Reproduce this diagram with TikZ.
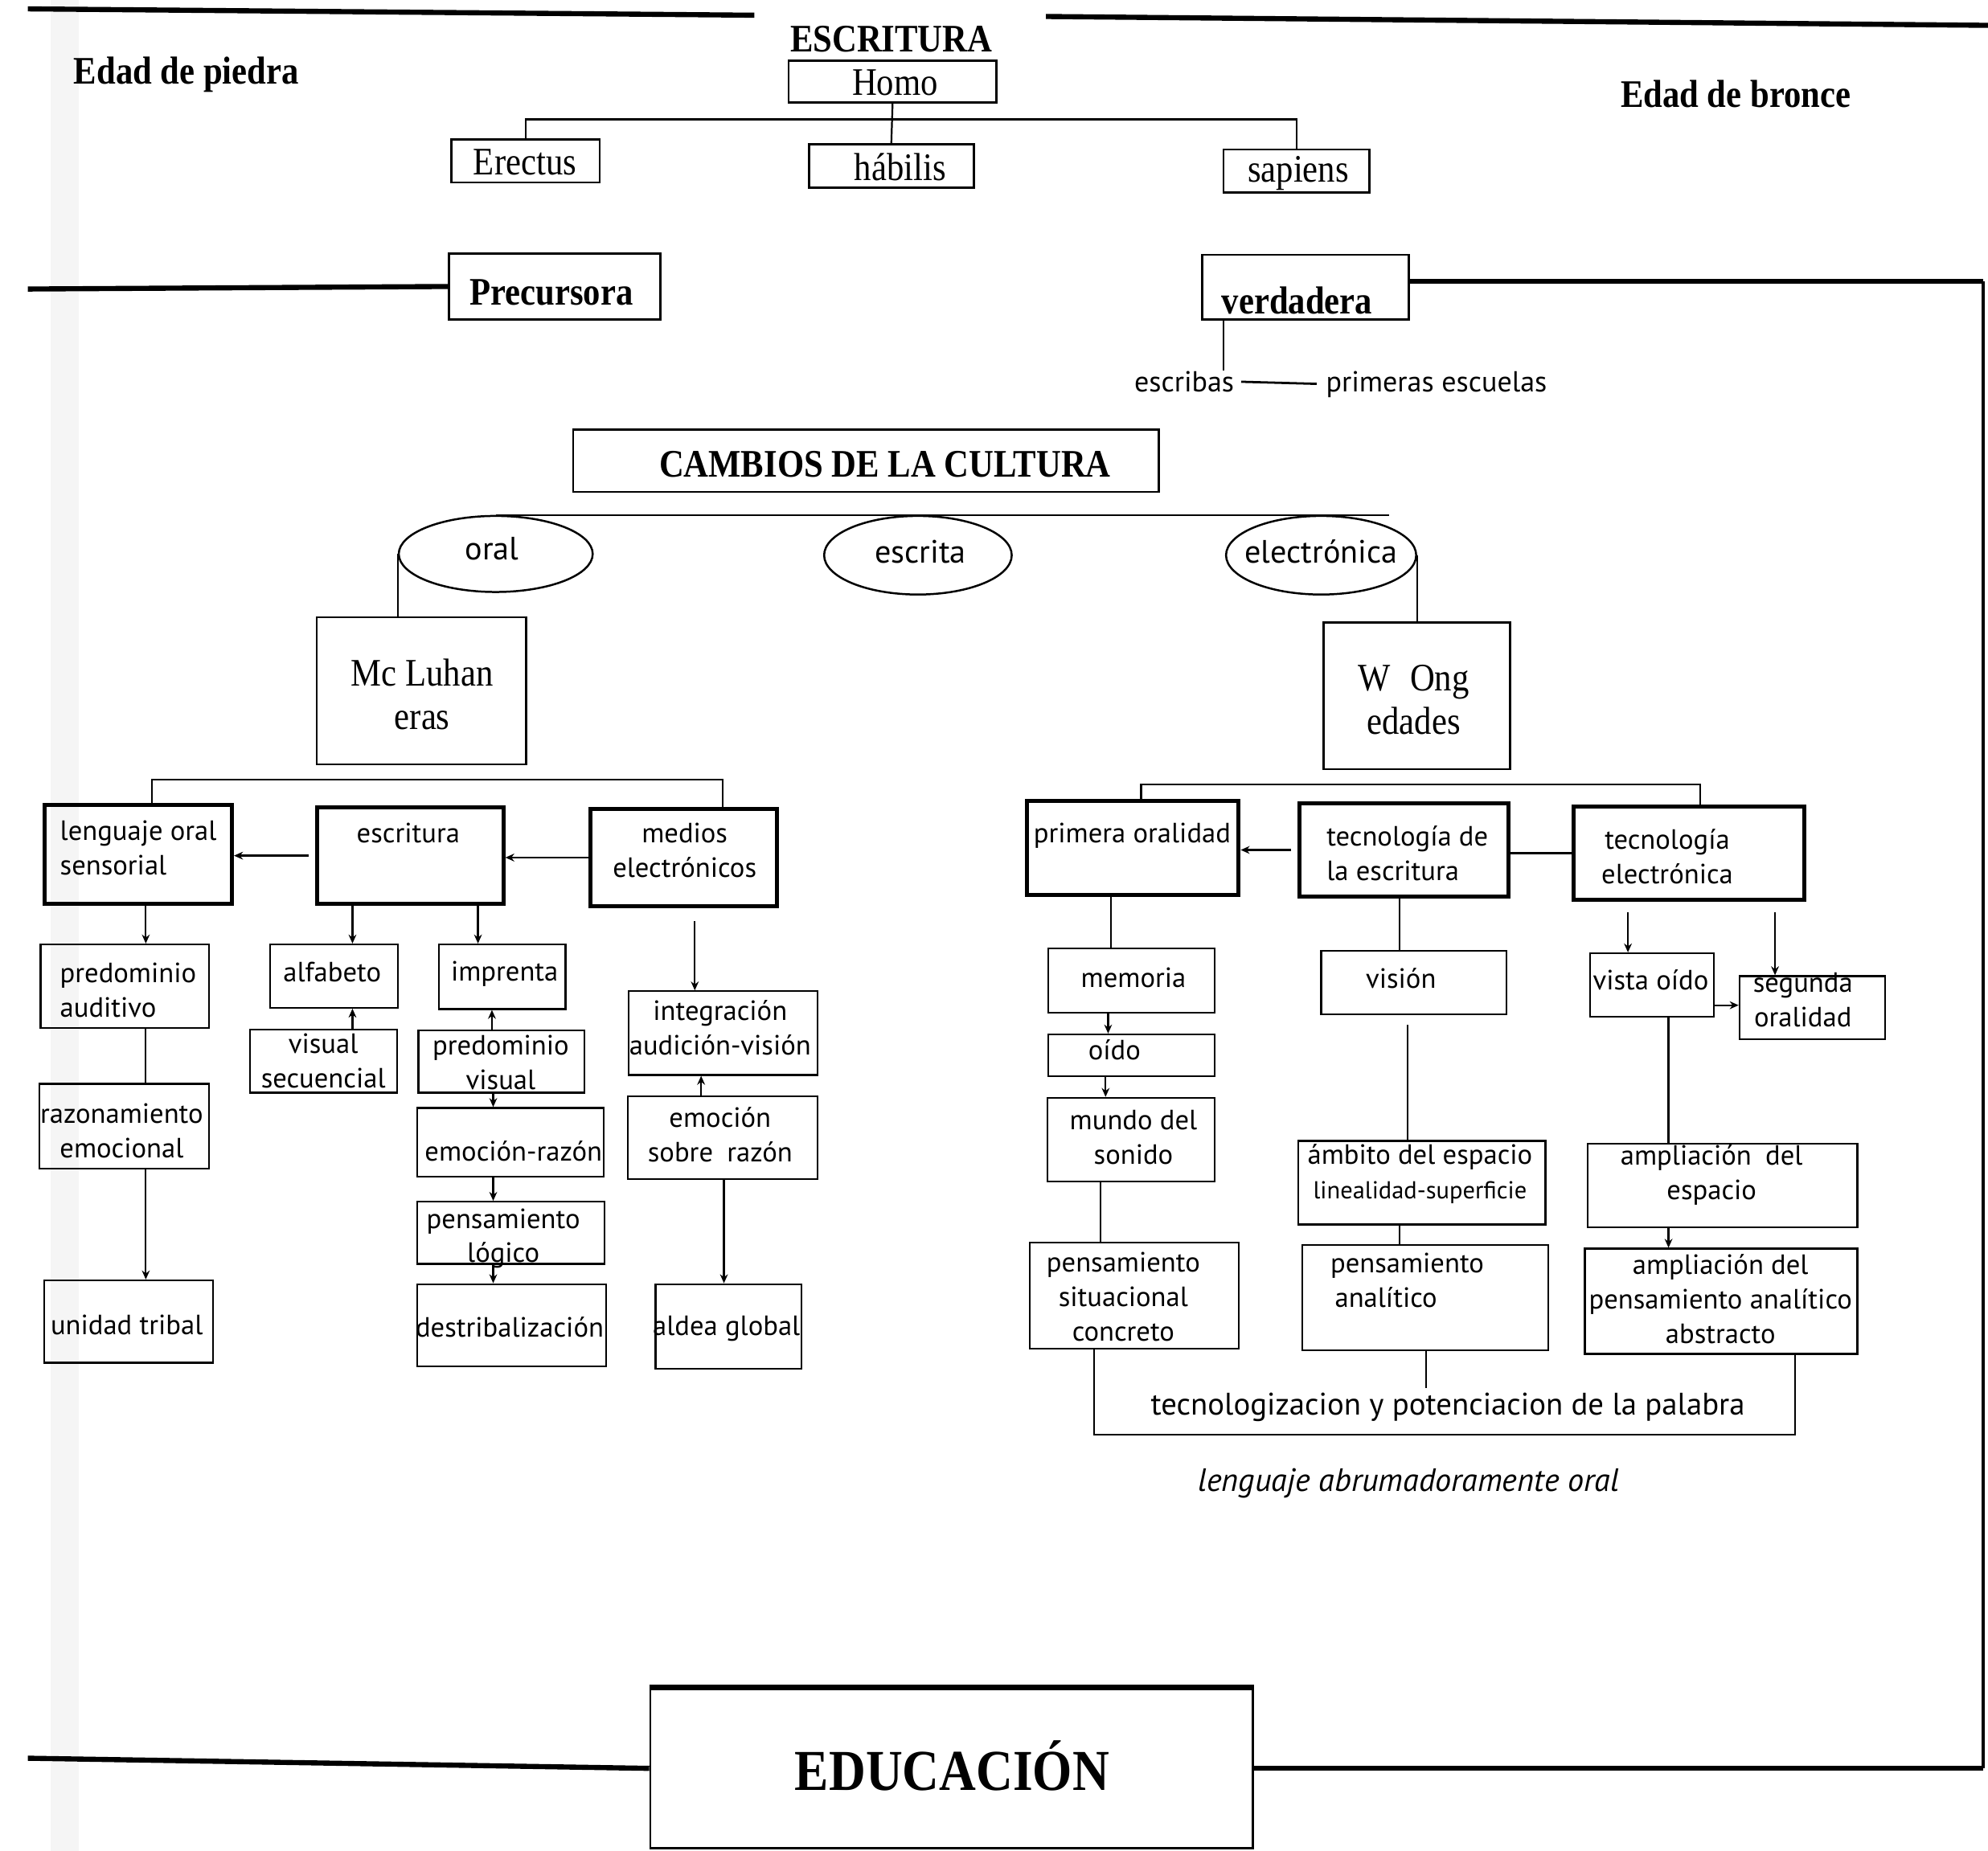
\documentclass[tikz,border=0pt]{standalone}
\usepackage{fontspec}
\setmainfont{Liberation Serif}[FakeStretch=0.88]
\newfontfamily\optfont{PT Sans}
\usetikzlibrary{shapes.geometric,arrows.meta}
\tikzset{
  box/.style={draw,line width=0.8pt,inner sep=0pt},
  tbox/.style={draw,line width=1pt,inner sep=0pt},
  bbox/.style={draw,line width=1.8pt,inner sep=0pt},
  txt/.style={inner sep=0pt,align=center,font=\optfont\fontsize{12.5}{15.5}\selectfont},
  ltxt/.style={txt,align=left},
  otxt/.style={inner sep=0pt,font=\optfont\fontsize{14.5}{16}\selectfont},
  stxt/.style={inner sep=0pt,align=center,font=\fontsize{17.5}{19.5}\selectfont},
  btxt/.style={inner sep=0pt,font=\bfseries\fontsize{17.5}{20}\selectfont},
  oval/.style={draw,ellipse,line width=0.9pt,inner sep=0pt},
  con/.style={line width=0.8pt},
  arr/.style={con,-{Stealth[length=4pt,width=3.5pt]}},
  heavy/.style={line width=2.3pt},
}
\newcommand\mybox[6][box]{%
  \node[#1,minimum width={(#5-#3)*0.02cm},minimum height={(#6-#4)*0.02cm}] (#2) at ({(#3+#5)/2},{(#4+#6)/2}) {};}
\begin{document}
\begin{tikzpicture}[x=0.02cm,y=-0.02cm]
\useasboundingbox (0,0) rectangle (1568,1460);
\fill[black!4] (40,0) rectangle (62,1460);
% top lines
\coordinate (tl1) at (22,7); \coordinate (tl2) at (595,12);
\coordinate (tr1) at (825,13); \coordinate (tr2) at (1568,20);
\draw[heavy] (tl1) -- (tl2);
\draw[heavy] (tr1) -- (tr2);
\node[btxt] (escT) at (703,31) {ESCRITURA};
\node[btxt] (piedra) at (147,59) {Edad de piedra};
\node[btxt] (bronce) at (1369,74) {Edad de bronce};
% homo
\mybox[tbox]{homo}{622}{48}{786}{81}
\node[stxt] (homo-t) at (706,65) {Homo};
\mybox[tbox]{ere}{356}{110}{473}{144}
\node[stxt] (ere-t) at (414,128) {Erectus};
\mybox[tbox]{hab}{638}{114}{768}{148}
\node[stxt] (hab-t) at (710,132) {hábilis};
\mybox[tbox]{sap}{965}{118}{1080}{152}
\node[stxt] (sap-t) at (1024,137) {sapiens};
\draw[con] (homo.south) -- (hab.north);
\draw[con] (ere.north) -- ++(0,-15) -| (sap.north);
% precursora / verdadera
\mybox[tbox]{prec}{354}{200}{521}{252}
\node[btxt] (prec-t) at (435,231) {Precursora};
\mybox[tbox]{verd}{948}{201}{1111}{252}
\node[btxt] (verd-t) at (1023,237) {verdadera};
\coordinate (pl) at (22,228);
\draw[heavy] (pl) -- (prec.west);
\node[txt,font=\optfont\fontsize{13}{15}\selectfont] (escri) at (934,301) {escribas};
\node[txt,font=\optfont\fontsize{13}{15}\selectfont] (primesc) at (1133,303) {primeras escuelas};
\draw[con] (965,0 |- verd.south) -- (965,0 |- escri.north);
\draw[line width=1pt,shorten <=3pt,shorten >=4pt] (escri.east) -- (primesc.west);
% cambios
\mybox[tbox]{camb}{452}{339}{914}{388}
\node[btxt] (camb-t) at (698,366) {CAMBIOS DE LA CULTURA};
\node[oval,minimum width=3.06cm,minimum height=1.2cm] (oral) at (391,437) {};
\node[otxt] (oral-t) at (388,433) {oral};
\node[oval,minimum width=2.96cm,minimum height=1.24cm] (escrita) at (724,438) {};
\node[otxt] (escrita-t) at (726,435) {escrita};
\node[oval,minimum width=3.0cm,minimum height=1.24cm] (elec) at (1042,438) {};
\node[otxt] (elec-t) at (1042,435) {electrónica};
\draw[con] (oral.north) -- (oral.north -| elec.north east);
\mybox{mcl}{250}{487}{415}{603}
\node[stxt] (mcl-t) at (333,548) {Mc Luhan\\eras};
\mybox{wong}{1044}{491}{1191}{607}
\node[stxt] (wong-t) at (1115,552) {W\enspace Ong\\edades};
\draw[con] (oral.west) -- (oral.west |- mcl.north);
\draw[con] (elec.east) -- (elec.east |- wong.north);
% left subtree
\mybox[bbox]{len}{35}{635}{183}{713}
\node[ltxt,anchor=west] (len-t) at (47,669) {lenguaje oral\\sensorial};
\mybox[bbox]{esc}{250}{637}{397}{713}
\node[txt] (esc-t) at (322,657) {escritura};
\mybox[bbox]{med}{466}{638}{613}{715}
\node[txt] (med-t) at (540,671) {medios\\electrónicos};
\draw[con] (120,0 |- len.north) -- (120,615) -- (570,615) -- (570,0 |- med.north);
\draw[arr,shorten <=0.1cm] (esc.west) -- (esc.west -| len.east);
\draw[arr] (med.west) -- (med.west -| esc.east);
\mybox{predA}{32}{745}{165}{811}
\node[ltxt,anchor=west] (predA-t) at (47,781) {predominio\\auditivo};
\mybox{razon}{31}{855}{165}{922}
\node[txt] (razon-t) at (96,892) {razonamiento\\emocional};
\mybox{unidad}{35}{1010}{168}{1075}
\node[txt] (unidad-t) at (100,1045) {unidad tribal};
\draw[arr] (115,0 |- len.south) -- (115,0 |- predA.north);
\draw[con] (115,0 |- predA.south) -- (115,0 |- razon.north);
\draw[arr] (115,0 |- razon.south) -- (115,0 |- unidad.north);
\mybox{alfa}{213}{745}{314}{795}
\node[txt] (alfa-t) at (262,767) {alfabeto};
\mybox{visSec}{197}{812}{313}{862}
\node[txt] (visSec-t) at (255,837) {visual\\secuencial};
\mybox{impr}{346}{745}{446}{796}
\node[txt] (impr-t) at (398,768) {imprenta};
\mybox{predV}{330}{813}{461}{862}
\node[txt] (predV-t) at (395,838) {predominio\\visual};
\mybox{emoRaz}{329}{874}{476}{928}
\node[txt] (emoRaz-t) at (405,908) {emoción-razón};
\mybox{pensL}{329}{948}{477}{997}
\node[txt] (pensL-t) at (397,977) {pensamiento\\lógico};
\mybox{destr}{329}{1013}{478}{1078}
\node[txt] (destr-t) at (402,1047) {destribalización};
\draw[arr] (278,0 |- esc.south) -- (278,0 |- alfa.north);
\draw[arr] (377,0 |- esc.south) -- (377,0 |- impr.north);
\draw[arr] (278,0 |- visSec.north) -- (278,0 |- alfa.south);
\draw[arr] (388,0 |- predV.north) -- (388,0 |- impr.south);
\draw[arr] (389,0 |- predV.south) -- (389,0 |- emoRaz.north);
\draw[arr] (389,0 |- emoRaz.south) -- (389,0 |- pensL.north);
\draw[arr] (389,0 |- pensL.south) -- (389,0 |- destr.north);
\mybox{integ}{496}{782}{645}{848}
\node[txt] (integ-t) at (568,811) {integración\\audición-visión};
\mybox{emoSob}{495}{865}{645}{930}
\node[txt] (emoSob-t) at (568,895) {emoción\\sobre\enspace razón};
\mybox{aldea}{517}{1013}{632}{1080}
\node[txt] (aldea-t) at (573,1048) {aldea global};
\draw[arr,shorten <=0.2cm] (548,0 |- med.south) -- (548,0 |- integ.north);
\draw[arr] (553,0 |- emoSob.north) -- (553,0 |- integ.south);
\draw[arr] (571,0 |- emoSob.south) -- (571,0 |- aldea.north);
% right subtree
\mybox[bbox]{prim}{810}{632}{977}{706}
\node[txt] (prim-t) at (893,659) {primera oralidad};
\mybox[bbox]{tecEsc}{1025}{634}{1190}{707}
\node[ltxt,anchor=west] (tecEsc-t) at (1046,673) {tecnología de\\la escritura};
\mybox[bbox]{tecEl}{1241}{636}{1423}{710}
\node[txt] (tecEl-t) at (1315,676) {tecnología\\electrónica};
\draw[con] (900,0 |- prim.north) -- (900,619) -- (1341,619) -- (1341,0 |- tecEl.north);
\draw[arr,shorten <=0.1cm] (tecEsc.west) -- (tecEsc.west -| prim.east);
\draw[con] (tecEl.west) -- (tecEl.west -| tecEsc.east);
\mybox{mem}{827}{748}{958}{799}
\node[txt] (mem-t) at (894,771) {memoria};
\mybox{oido}{827}{816}{958}{849}
\node[txt] (oido-t) at (879,828) {oído};
\mybox{mundo}{826}{866}{958}{932}
\node[txt] (mundo-t) at (894,897) {mundo del\\sonido};
\mybox{pensS}{812}{980}{977}{1064}
\node[txt] (pensS-t) at (886,1023) {pensamiento\\situacional\\concreto};
\draw[con] (876,0 |- prim.south) -- (876,0 |- mem.north);
\draw[arr] (874,0 |- mem.south) -- (874,0 |- oido.north);
\draw[arr] (872,0 |- oido.south) -- (872,0 |- mundo.north);
\draw[con] (868,0 |- mundo.south) -- (868,0 |- pensS.north);
\mybox{vision}{1042}{750}{1188}{800}
\node[txt] (vision-t) at (1105,772) {visión};
\mybox{ambito}{1024}{900}{1219}{966}
\node[txt] (ambito-t) at (1120,926) {ámbito del espacio\\{\fontsize{11}{15.5}\selectfont linealidad-superficie}};
\mybox{pensA}{1027}{982}{1221}{1065}
\node[ltxt,anchor=west] (pensA-t) at (1049,1010) {pensamiento\\\hspace{2pt}analítico};
\draw[con] (1104,0 |- tecEsc.south) -- (1104,0 |- vision.north);
\draw[con,shorten <=0.16cm] (1110,0 |- vision.south) -- (1110,0 |- ambito.north);
\draw[con] (1104,0 |- ambito.south) -- (1104,0 |- pensA.north);
\mybox{vista}{1254}{752}{1352}{802}
\node[txt] (vista-t) at (1302,773) {vista oído};
\mybox{seg}{1372}{770}{1487}{820}
\node[txt] (seg-t) at (1422,789) {segunda\\oralidad};
\mybox{ampE}{1252}{902}{1465}{968}
\node[txt] (ampE-t) at (1350,927) {ampliación\enspace del\\espacio};
\mybox{ampP}{1250}{985}{1465}{1068}
\node[txt] (ampP-t) at (1357,1025) {ampliación del\\pensamiento analítico\\abstracto};
\draw[arr,shorten <=0.16cm] (1284,0 |- tecEl.south) -- (1284,0 |- vista.north);
\draw[arr,shorten <=0.16cm] (1400,0 |- tecEl.south) -- (1400,0 |- seg.north);
\draw[arr] (vista.east |- 0,793) -- (seg.west |- 0,793);
\draw[con] (1316,0 |- vista.south) -- (1316,0 |- ampE.north);
\draw[arr] (1316,0 |- ampE.south) -- (1316,0 |- ampP.north);
\node[txt,font=\optfont\fontsize{14}{16}\selectfont] (tecn) at (1142,1110) {tecnologizacion y potenciacion de la palabra};
\draw[con] (863,0 |- pensS.south) -- (863,1132) -- (1416,1132) -- (1416,0 |- ampP.south);
\draw[con] (1125,0 |- pensA.south) -- (1125,1095);
\node[txt,font=\optfont\itshape\fontsize{14.5}{16}\selectfont] (abrum) at (1111,1170) {lenguaje abrumadoramente oral};
% educacion
\mybox[tbox]{edu}{513}{1332}{988}{1458}
\draw[heavy] (edu.north west) -- (edu.north east);
\node[inner sep=0pt,font=\bfseries\fontsize{26}{28}\selectfont] (edu-t) at (751,1393) {EDUCACIÓN};
\coordinate (el) at (22,1387);
\draw[heavy] (el) -- (edu.west);
\coordinate (vr) at (1564,222);
\draw[heavy] (verd.east |- vr) -- (vr);
\draw[line width=1.3pt] (vr) -- (vr |- edu.east);
\draw[heavy] (vr |- edu.east) -- (edu.east);
\end{tikzpicture}
\end{document}
